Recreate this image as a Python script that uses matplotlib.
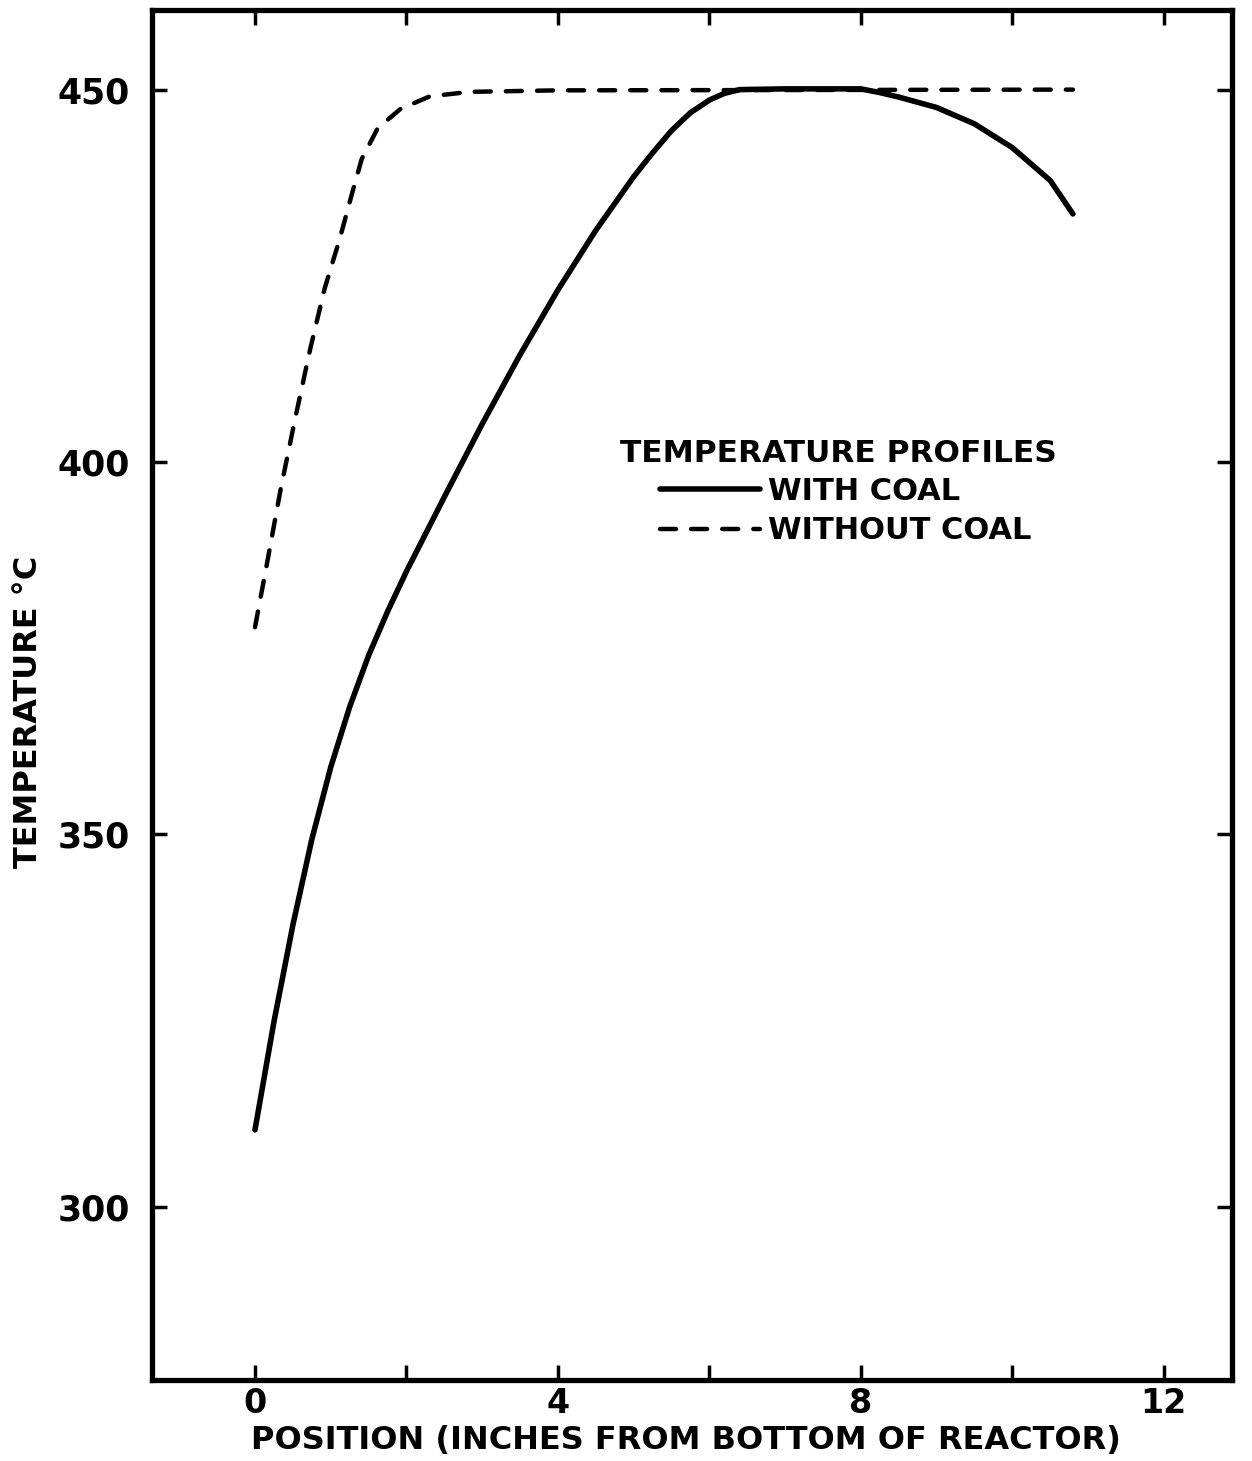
import numpy as np
import matplotlib.pyplot as plt

# with coal (solid)
coal_x = [0, 0.25, 0.5, 0.75, 1.0, 1.25, 1.5, 1.75, 2.0, 2.5, 3.0, 3.5, 4.0, 4.5,
          5.0, 5.25, 5.5, 5.75, 6.0, 6.2, 6.4, 7.0, 8.0, 8.25, 8.5, 9.0, 9.5,
          10.0, 10.5, 10.8]
coal_y = [310.3, 324.8, 337.8, 349.3, 359.0, 367.1, 374.0, 379.9, 385.3, 395.3,
          405.1, 414.4, 423.1, 431.1, 438.3, 441.5, 444.5, 446.9, 448.6, 449.5,
          450.0, 450.1, 450.1, 449.6, 449.0, 447.6, 445.4, 442.2, 437.8, 433.3]

# without coal (dashed)
nocoal_x = [0, 0.17, 0.34, 0.53, 0.73, 0.92, 1.12, 1.28, 1.41, 1.62, 1.92, 2.31,
            2.84, 4.0, 10.8]
nocoal_y = [377.8, 387.0, 396.4, 405.8, 415.2, 423.3, 430.0, 436.0, 440.7, 444.8,
            447.4, 449.1, 449.7, 449.9, 450.0]

xticks = [0, 2, 4, 6, 8, 10, 12]
xticklabels = ['0', '', '4', '', '8', '', '12']
yticks = [300, 350, 400, 450]

plt.rcParams['font.family'] = 'DejaVu Sans'
plt.rcParams['font.weight'] = 'bold'

fig = plt.figure(figsize=(12.52, 14.61), dpi=100)
ax = fig.add_axes([0.1214, 0.0554, 0.8626, 0.9378])

ax.plot(coal_x, coal_y, color='black', lw=4, solid_capstyle='round',
        label='WITH COAL')
ax.plot(nocoal_x, nocoal_y, color='black', lw=3.2, dashes=(3.6, 3.4),
        dash_capstyle='round', label='WITHOUT COAL')

ax.set_xlim(-1.36, 12.9)
ax.set_ylim(276.7, 460.7)
ax.set_xticks(xticks)
ax.set_xticklabels(xticklabels)
ax.set_yticks(yticks)
ax.tick_params(direction='in', length=11, width=2.5, labelsize=25,
               top=True, right=True)
ax.tick_params(axis='y', pad=16)
ax.tick_params(axis='x', pad=5, labelsize=24)
for s in ax.spines.values():
    s.set_linewidth(3.8)

ax.set_xlabel('POSITION (INCHES FROM BOTTOM OF REACTOR)', fontsize=23,
              fontweight='bold')
ax.xaxis.set_label_coords(0.494, -0.033)
ax.set_ylabel('TEMPERATURE °C', fontsize=23, fontweight='bold')
ax.yaxis.set_label_coords(-0.100, 0.488)

ax.text(0.4333, 0.6766, 'TEMPERATURE PROFILES', transform=ax.transAxes,
        fontsize=22.5, fontweight='bold', va='center', ha='left')
leg = ax.legend(frameon=False, loc='upper left', bbox_to_anchor=(0.470, 0.659),
                fontsize=22, handlelength=3.3, labelspacing=0.33,
                handletextpad=0.25, borderaxespad=0, borderpad=0)

fig.savefig('out.png', dpi=100)
